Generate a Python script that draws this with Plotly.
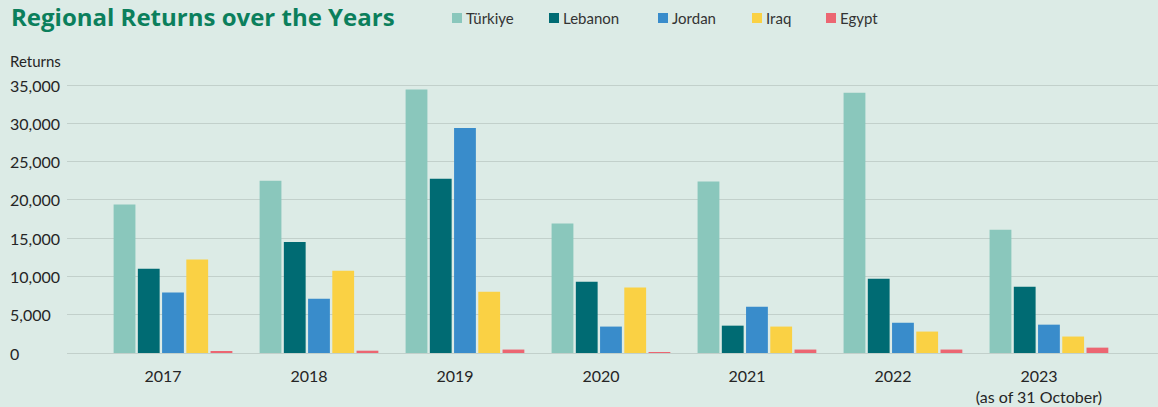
import plotly.graph_objects as go

# Returns per year and country
years = ["2017", "2018", "2019", "2020", "2021", "2022", "2023"]
year_labels = ["2017", "2018", "2019", "2020", "2021", "2022", "2023<br>(as of 31 October)"]
countries = ["Türkiye", "Lebanon", "Jordan", "Iraq", "Egypt"]

turkiye = [19400, 22500, 34400, 16900, 22400, 34000, 16100]
lebanon = [11000, 14500, 22750, 9300, 3570, 9700, 8650]
jordan = [7900, 7100, 29400, 3450, 6050, 3950, 3700]
iraq = [12200, 10750, 8000, 8550, 3450, 2800, 2150]
egypt = [200, 300, 450, 50, 450, 450, 700]

y_ticks = [0, 5000, 10000, 15000, 20000, 25000, 30000, 35000]

series = [turkiye, lebanon, jordan, iraq, egypt]
colors = ["#8AC7BC", "#006B73", "#398CCB", "#FAD144", "#EC6672"]

BG = "#DCEBE6"
GRID = "#C2D0CB"
TEXT = "#252525"
FONT = "Lato"

W, H = 1158, 407
ML, MR, MT, MB = 67, 0, 78, 54
plot_w = W - ML - MR
plot_h = H - MT - MB


def px_x(px):
    return (px - ML) / plot_w


def px_y(py):
    return (H - MB - py) / plot_h


fig = go.Figure()
for name, vals, col in zip(countries, series, colors):
    fig.add_trace(go.Bar(
        x=years, y=vals, name=name, marker=dict(color=col, line=dict(width=0)),
        hovertemplate="%{x}: %{y:,}<extra>" + name + "</extra>",
    ))

# y tick labels, left aligned
annotations = []
for v in y_ticks:
    annotations.append(dict(
        x=px_x(8), xref="paper", y=v, yref="y", text=f"{v:,}", showarrow=False,
        xanchor="left", yanchor="middle", font=dict(size=16, color=TEXT, family=FONT),
    ))

annotations.append(dict(
    x=px_x(8), xref="paper", y=px_y(61), yref="paper", text="Returns", showarrow=False,
    xanchor="left", yanchor="middle", font=dict(size=15, color=TEXT, family=FONT),
))

# title
annotations.append(dict(
    x=px_x(9), xref="paper", y=px_y(17), yref="paper", text="<b>Regional Returns over the Years</b>",
    showarrow=False, xanchor="left", yanchor="middle",
    font=dict(size=24, color="#0B7F5C", family="Open Sans"),
))

# legend: coloured square followed by the country name
legend_x = [452, 549, 658, 752, 826]
shapes = []
for name, col, lx in zip(countries, colors, legend_x):
    shapes.append(dict(
        type="rect", xref="paper", yref="paper",
        x0=px_x(lx), x1=px_x(lx + 10), y0=px_y(23), y1=px_y(13),
        fillcolor=col, line=dict(width=0),
    ))
    annotations.append(dict(
        x=px_x(lx + 12), xref="paper", y=px_y(18), yref="paper", text=name, showarrow=False,
        xanchor="left", yanchor="middle", font=dict(size=15, color="#333333", family=FONT),
    ))

fig.update_layout(
    width=W, height=H,
    margin=dict(l=ML, r=MR, t=MT, b=MB),
    paper_bgcolor=BG, plot_bgcolor=BG,
    barmode="group", bargap=0.17, bargroupgap=0.1,
    showlegend=False,
    annotations=annotations, shapes=shapes,
    font=dict(family=FONT, color=TEXT),
    xaxis=dict(
        type="category", range=[-0.726, 6.747],
        tickvals=years, ticktext=year_labels,
        tickfont=dict(size=16, color=TEXT, family=FONT),
        showgrid=False, zeroline=False, showline=False, ticks="",
        ticklabelstandoff=12, ticklabelshift=-10,
    ),
    yaxis=dict(
        range=[0, 35914], tickvals=y_ticks, showticklabels=False,
        showgrid=True, gridcolor=GRID, gridwidth=1.3,
        zeroline=True, zerolinecolor=GRID, zerolinewidth=1.3, ticks="",
    ),
)

fig.write_html("out.html")
